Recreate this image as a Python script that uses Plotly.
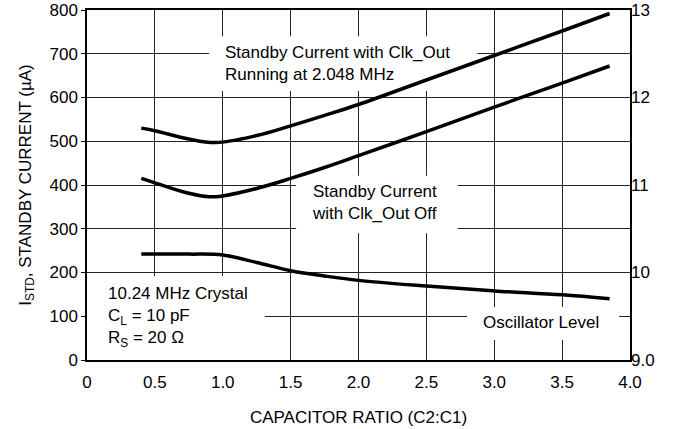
import plotly.graph_objects as go

# capacitor ratio C2:C1
ratio_on = [0.4, 0.5, 0.75, 0.95, 1.25, 1.5, 1.75, 2.0, 2.5, 3.0, 3.5, 3.85]
# standby current with Clk_Out running at 2.048 MHz (uA)
current_on = [530, 524, 505, 497, 513, 535, 559, 584, 640, 696, 752, 792]

ratio_off = [0.4, 0.5, 0.75, 0.9, 1.0, 1.25, 1.5, 1.75, 2.0, 2.5, 3.0, 3.5, 3.85]
# standby current with Clk_Out off (uA)
current_off = [415, 405, 381, 373, 375, 392, 415, 440, 467, 522, 578, 633, 672]

ratio_osc = [0.4, 0.75, 1.0, 1.25, 1.5, 1.75, 2.0, 2.5, 3.0, 3.5, 3.85]
# oscillator level (right axis)
osc_level = [10.21, 10.21, 10.2, 10.115, 10.02, 9.96, 9.91, 9.845, 9.79, 9.745, 9.7]

x_ticks = [0, 0.5, 1.0, 1.5, 2.0, 2.5, 3.0, 3.5, 4.0]
x_labels = ["0", "0.5", "1.0", "1.5", "2.0", "2.5", "3.0", "3.5", "4.0"]
y2_ticks = [9, 10, 11, 12, 13]
y2_labels = ["9.0", "10", "11", "12", "13"]

FONT = "Liberation Sans, Arial, sans-serif"
line = dict(color="black", width=3.5, shape="spline", smoothing=1.0)

fig = go.Figure()
fig.add_trace(go.Scatter(x=ratio_on, y=current_on, mode="lines", line=line))
fig.add_trace(go.Scatter(x=ratio_off, y=current_off, mode="lines", line=line))
fig.add_trace(go.Scatter(x=ratio_osc, y=osc_level, mode="lines", line=line, yaxis="y2"))

# white boxes behind the labels, cutting the grid but not the curves
boxes = [(0.9, 2.875, 615, 740), (1.54, 2.73, 290, 421), (0, 1.31, 0, 192), (2.8, 3.92, 46, 121)]
for x0, x1, y0, y1 in boxes:
    fig.add_shape(type="rect", x0=x0, x1=x1, y0=y0, y1=y1, xref="x", yref="y",
                  fillcolor="white", line_width=0, layer="between")

notes = [
    (1.0, 677, "Standby Current with Clk_Out<br>Running at 2.048 MHz"),
    (1.64, 360, "Standby Current<br>with Clk_Out Off"),
    (0.14, 98, "10.24 MHz Crystal<br>C<sub>L</sub> = 10 pF<br>R<sub>S</sub> = 20 Ω"),
    (2.9, 85, "Oscillator Level"),
]
for x, y, text in notes:
    fig.add_annotation(x=x, y=y, text=text, showarrow=False, xanchor="left", yanchor="middle",
                       align="left", font=dict(family=FONT, size=17, color="black"))

axis_common = dict(showline=True, linecolor="black", linewidth=1.5, mirror=True, automargin=False,
                   tickfont=dict(family=FONT, size=17, color="black"))

fig.update_layout(
    width=675, height=429,
    margin=dict(l=87, r=45, t=10, b=69),
    paper_bgcolor="white", plot_bgcolor="white",
    showlegend=False,
    font=dict(family=FONT, size=17, color="black"),
    xaxis=dict(range=[0, 4], tickvals=x_ticks, ticktext=x_labels, showgrid=True,
               gridcolor="#222", gridwidth=1, zeroline=False, ticklabelstandoff=6,
               title=dict(text="CAPACITOR RATIO (C2:C1)", font=dict(family=FONT, size=17), standoff=20),
               **axis_common),
    yaxis=dict(range=[0, 800], dtick=100, showgrid=True, gridcolor="#222", gridwidth=1,
               zeroline=False, ticks="outside", ticklen=4, tickcolor="black",
               title=dict(text="I<sub>STD</sub>, STANDBY CURRENT (µA)", font=dict(family=FONT, size=17), standoff=14),
               **axis_common),
    yaxis2=dict(range=[9, 13], tickvals=y2_ticks, ticktext=y2_labels, overlaying="y", side="right",
                showgrid=False, zeroline=False, showline=False, automargin=False,
                tickfont=dict(family=FONT, size=17, color="black")),
)

# drop the page's default body margin so the figure sits at the window corner
fig.write_html("out.html", config={"displayModeBar": False},
               post_script="document.body.style.margin='0';")
